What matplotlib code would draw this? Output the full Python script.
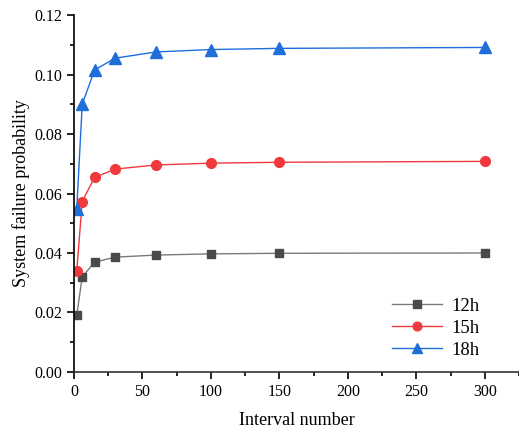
"""
System failure probability vs interval number
"""
import numpy as np
import matplotlib.pyplot as plt

plt.rcParams['font.family'] = ['Liberation Serif', 'DejaVu Serif']

interval = [2, 6, 15, 30, 60, 100, 150, 300]
p_12h = [0.0190, 0.0320, 0.0369, 0.0386, 0.0393, 0.0397, 0.0399, 0.0400]
p_15h = [0.0340, 0.0573, 0.0654, 0.0682, 0.0696, 0.0702, 0.0705, 0.0708]
p_18h = [0.0548, 0.0900, 0.1015, 0.1055, 0.1076, 0.1084, 0.1088, 0.1091]

fig = plt.figure(figsize=(5.19, 4.30), dpi=100)
ax = fig.add_axes([0.1426, 0.135, 0.8574, 0.83])

ax.plot(interval, p_12h, color='#7a7a7a', lw=1, marker='s', ms=6,
        mfc='#4a4a4a', mec='#4a4a4a', label='12h')
ax.plot(interval, p_15h, color='#f0393d', lw=1, marker='o', ms=7,
        mfc='#f0393d', mec='#f0393d', label='15h')
ax.plot(interval, p_18h, color='#1f6fdb', lw=1, marker='^', ms=8,
        mfc='#1f6fdb', mec='#1f6fdb', label='18h')

ax.set_xlim(0, 325)
ax.set_ylim(0, 0.12)
ax.set_xticks(np.arange(0, 301, 50))
ax.set_xticks(np.arange(25, 326, 50), minor=True)
ax.set_yticks(np.arange(0, 0.121, 0.02))
ax.set_yticks(np.arange(0.01, 0.12, 0.02), minor=True)
ax.yaxis.set_major_formatter(plt.FormatStrFormatter('%.2f'))

for s in ['top', 'right']:
    ax.spines[s].set_visible(False)
for s in ['left', 'bottom']:
    ax.spines[s].set_linewidth(1.2)
ax.spines['bottom'].set_color('#333333')
ax.tick_params(which='major', direction='out', length=5, width=1.2, labelsize=11.5)
ax.tick_params(which='minor', direction='out', length=3, width=1.2)

ax.set_xlabel('Interval number', fontsize=13, labelpad=9)
ax.set_ylabel('System failure probability', fontsize=13, labelpad=3)

ax.legend(loc='lower right', bbox_to_anchor=(0.95, -0.01), frameon=False,
          fontsize=13.5, handlelength=2.7, labelspacing=0.25, markerscale=0.9,
          handletextpad=0.5)

fig.savefig('out.png', dpi=100)
plt.close(fig)
